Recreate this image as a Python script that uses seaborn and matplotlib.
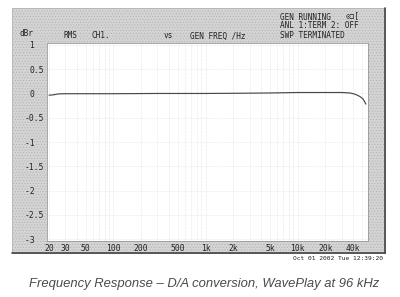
import numpy as np
import pandas as pd
import matplotlib
matplotlib.use("Agg")
import matplotlib.pyplot as plt
from matplotlib.patches import Rectangle
from matplotlib.lines import Line2D
import seaborn as sns

# ---- data ----
freq_hz = [20, 22, 25, 30, 50, 100, 300, 1000, 2500, 5000, 10000, 20000,
           30000, 37000, 41000, 45000, 48000, 51000, 53000, 55000]
level_dbr = [-0.035, -0.03, -0.01, -0.005, -0.005, -0.005, 0.0, 0.0, 0.005, 0.01,
             0.02, 0.02, 0.02, 0.01, -0.01, -0.04, -0.07, -0.11, -0.16, -0.22]
x_ticks = [20, 30, 50, 100, 200, 500, 1000, 2000, 5000, 10000, 20000, 40000]
x_tick_labels = ["20", "30", "50", "100", "200", "500", "1k", "2k", "5k", "10k", "20k", "40k"]
y_ticks = [1, 0.5, 0, -0.5, -1, -1.5, -2, -2.5, -3]
y_tick_labels = ["1", "0.5", "0", "-0.5", "-1", "-1.5", "-2", "-2.5", "-3"]
caption = "Frequency Response \u2013 D/A conversion, WavePlay at 96 kHz"

df = pd.DataFrame({"freq": freq_hz, "dbr": level_dbr})

sns.set_theme(style="white")
plt.rcParams["font.family"] = ["DejaVu Sans"]
plt.rcParams["hatch.color"] = "#e4e4e4"
plt.rcParams["hatch.linewidth"] = 0.4

W, H = 400, 297
fig = plt.figure(figsize=(W / 100, H / 100), dpi=100)
fig.patch.set_facecolor("white")

def fx(px):
    return px / W

def fy(py):
    return 1 - py / H

# gray instrument panel
panel = Rectangle((fx(12), fy(253)), fx(385) - fx(12), fy(8) - fy(253),
                  transform=fig.transFigure, facecolor="#d4d4d4",
                  edgecolor="#b0b0b0", linewidth=0.6, hatch="......", zorder=-5)
fig.patches.append(panel)
# dark shadow edges bottom & right
fig.lines.append(Line2D([fx(12), fx(385)], [fy(253), fy(253)], transform=fig.transFigure,
                        color="#444444", linewidth=1.2, zorder=-4))
fig.lines.append(Line2D([fx(385), fx(385)], [fy(8), fy(253)], transform=fig.transFigure,
                        color="#444444", linewidth=1.2, zorder=-4))

ax = fig.add_axes([fx(47), fy(241), fx(368) - fx(47), fy(43) - fy(241)])
ax.set_zorder(2)
ax.set_facecolor("white")
ax.set_xscale("log")
ax.set_xlim(19, 58000)
ax.set_ylim(-3.04, 1.04)

# faint grid
minor = []
for dec in [10, 100, 1000, 10000]:
    for m in range(1, 10):
        v = dec * m
        if 19 < v < 58000:
            minor.append(v)
for v in minor:
    ax.axvline(v, color="#e2e2e2", linewidth=0.5, linestyle=(0, (1, 1)), zorder=0)
for v in np.arange(-3, 1.01, 0.5):
    ax.axhline(v, color="#e4e4e4", linewidth=0.5, linestyle=(0, (1, 1)), zorder=0)

sns.lineplot(data=df, x="freq", y="dbr", ax=ax, color="#484848", linewidth=0.85)

mono = ["DejaVu Sans Mono"]
ax.set_xticks(x_ticks)
ax.set_xticklabels(x_tick_labels, fontsize=5.8, family=mono, color="#222222")
ax.set_yticks(y_ticks)
# align labels on the decimal point, like the instrument display
ylab_aligned = [s if "." in s else s + "\u2007\u2007" for s in y_tick_labels]
ax.set_yticklabels(ylab_aligned, fontsize=5.8, family=mono, color="#222222")
ax.xaxis.set_minor_locator(matplotlib.ticker.NullLocator())
ax.tick_params(axis="both", length=0, pad=2)
ax.set_xlabel("")
ax.set_ylabel("")
for s in ax.spines.values():
    s.set_color("#999999")
    s.set_linewidth(0.6)

# header texts
hdr = dict(fontsize=5.6, family=mono, color="#222222", va="center", ha="left")
fig.text(fx(20), fy(33), "dBr", **hdr)
fig.text(fx(63), fy(36), "RMS", **hdr)
fig.text(fx(92), fy(36), "CH1.", **hdr)
fig.text(fx(164), fy(36), "vs", **hdr)
fig.text(fx(190), fy(36), "GEN FREQ /Hz", **hdr)
fig.text(fx(280), fy(17), "GEN RUNNING", **hdr)
fig.text(fx(280), fy(26), "ANL 1:TERM 2: OFF", **hdr)
fig.text(fx(280), fy(35), "SWP TERMINATED", **hdr)
fig.text(fx(346), fy(16), "\u2299\u2290[", **hdr)
fig.text(fx(383), fy(258), "Oct 01 2002 Tue 12:39:20", fontsize=4.5, family=mono,
         color="#222222", va="center", ha="right")

fig.text(0.51, fy(284), caption, fontsize=9.4, style="italic", color="#4a4a4a",
         family=["Liberation Sans", "DejaVu Sans"], ha="center", va="center")

fig.savefig("out.png", dpi=100)
